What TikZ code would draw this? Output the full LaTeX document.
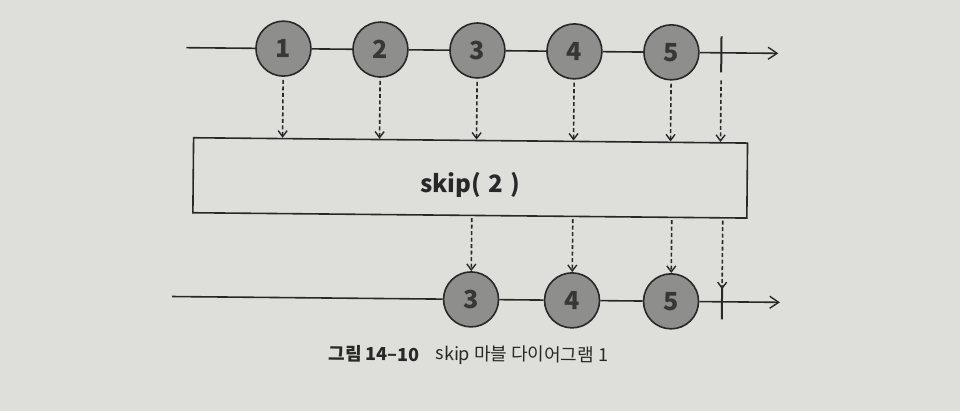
\documentclass[tikz,border=0pt]{standalone}
\usepackage{fontspec}
\setmainfont{Noto Sans CJK KR}
\usetikzlibrary{arrows.meta}
\definecolor{paper}{RGB}{222,222,218}
\definecolor{ink}{RGB}{40,40,40}
\definecolor{ballfill}{RGB}{142,142,140}
\definecolor{balltext}{RGB}{55,55,55}
\tikzset{
  ball/.style={circle, draw=ink, line width=1.6pt, fill=ballfill, minimum size=55pt, inner sep=0pt,
    font=\fontsize{25}{25}\selectfont\bfseries, text=balltext},
  timeline/.style={draw=ink, line width=1.6pt},
  endarrow/.style={-{Straight Barb[length=9pt,width=12pt,line width=1.4pt]}},
  flow/.style={draw=ink, line width=1.6pt, dash pattern=on 4pt off 2.5pt,
    -{Straight Barb[length=6pt,width=9pt,line width=1.4pt]}},
  opbox/.style={draw=ink, line width=1.6pt, fill=paper, minimum width=554pt, minimum height=75pt, inner sep=0pt},
  optext/.style={inner sep=0pt, font=\fontsize{24}{24}\selectfont\bfseries, text=ink},
  termbar/.style={draw=ink, line width=2pt},
  captext/.style={anchor=west, inner sep=0pt, text=ink}
}
\begin{document}
\begin{tikzpicture}[x=1pt,y=-1pt]
\fill[paper] (0,0) rectangle (960,411);
\useasboundingbox (0,0) rectangle (960,411);
\begin{scope}[rotate around={-0.55:(480,200)}, transform shape]
% top row
\node[ball] (t1) at (282,50.5) {1};
\node[ball] (t2) at (379,50.5) {2};
\node[ball] (t3) at (476,50.5) {3};
\node[ball] (t4) at (573,50.5) {4};
\node[ball] (t5) at (670,50.5) {5};
\coordinate (tl) at (185,50.5);
\coordinate (tr) at (777,50.5);
\coordinate (tbtop) at (720,34);
\coordinate (tbbot) at (720,70);
\draw[timeline] (tl) -- (t1.west);
\draw[timeline] (t1.east) -- (t2.west);
\draw[timeline] (t2.east) -- (t3.west);
\draw[timeline] (t3.east) -- (t4.west);
\draw[timeline] (t4.east) -- (t5.west);
\draw[timeline,endarrow] (t5.east) -- (tr);
\draw[termbar] (tbtop) -- (tbbot);
% operator box
\node[opbox] (op) at (470,178) {};
\node[optext] (opl) at ([yshift=-7pt]op.center) {skip(\hspace{0.3em}2\hspace{0.3em})};
% dashed arrows into box
\foreach \n in {t1,t2,t3,t4,t5}{
  \draw[flow] ([yshift=-3pt]\n.south) -- (\n.south |- op.north);
}
\draw[flow] ([yshift=-8pt]tbbot) -- (tbbot |- op.north);
% bottom row
\node[ball] (b3) at (472,299.5) {3};
\node[ball] (b4) at (573,299.5) {4};
\node[ball] (b5) at (672,299.5) {5};
\coordinate (bl) at (173,299.5);
\coordinate (br) at (781,299.5);
\coordinate (bbtop) at (723,283);
\coordinate (bbbot) at (723,317);
\draw[timeline] (bl) -- (b3.west);
\draw[timeline] (b3.east) -- (b4.west);
\draw[timeline] (b4.east) -- (b5.west);
\draw[timeline,endarrow] (b5.east) -- (br);
\draw[termbar] (bbtop) -- (bbbot);
% dashed arrows out of box
\draw[flow] ([yshift=-2pt]op.south -| b3) -- (b3.north);
\draw[flow] ([yshift=-2pt]op.south -| b4) -- (b4.north);
\draw[flow] ([yshift=-2pt]op.south -| b5) -- (b5.north);
\draw[flow] ([yshift=-2pt]op.south -| bbtop) -- ([yshift=-4pt]bbtop);
% caption
\node[captext, font=\fontsize{18}{18}\selectfont\bfseries] (cap1) at (330,355) {그림 14–10};
\node[captext, font=\fontsize{18}{18}\selectfont] (cap2) at (437,355) {skip 마블 다이어그램 1};
\end{scope}
\end{tikzpicture}
\end{document}
